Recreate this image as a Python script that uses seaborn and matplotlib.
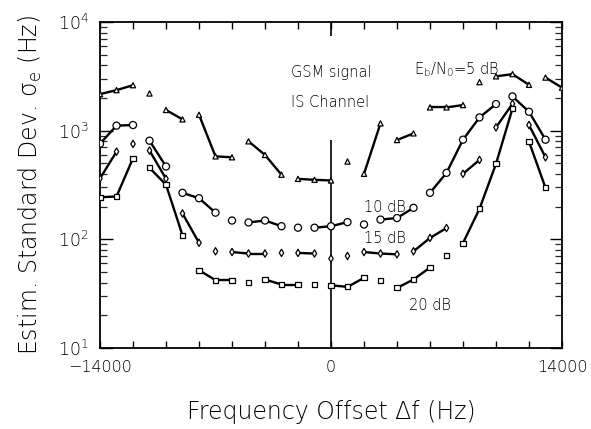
import matplotlib
matplotlib.use("Agg")
import numpy as np
import pandas as pd
import matplotlib.pyplot as plt
import matplotlib.ticker as mticker
import seaborn as sns

# Frequency offsets of the simulated points (Hz)
offsets = [-14000, -13000, -12000, -11000, -10000, -9000, -8000, -7000,
           -6000, -5000, -4000, -3000, -2000, -1000, 0, 1000, 2000, 3000,
           4000, 5000, 6000, 7000, 8000, 9000, 10000, 11000, 12000, 13000,
           14000]

# Estimated standard deviation of the frequency error (Hz), one list per Eb/N0
sigma_5db = [2170, 2360, 2620, 2200, 1550, 1270, 1400, 580, 569, 798, 598,
             393, 360, 353, 348, 520, 401, 1167, 820, 944, 1637, 1637, 1721,
             2797, 3162, 3311, 2642, 3080, 2490]
sigma_10db = [759, 1112, 1127, 809, 468, 268, 239, 176, 149, 143, 149, 132,
              128, 128, 132, 144, 137, 152, 157, 195, 268, 409, 826, 1324,
              1758, 2066, 1493, 826, np.nan]
sigma_15db = [363, 641, 755, 656, 361, 173, 93, 77.6, 76.4, 74, 74, 75, 75,
              74, 66.5, 70.3, 76.4, 74, 72.8, 77.6, 103, 127, 401, 538, 1072,
              1770, 1127, 569, np.nan]
sigma_20db = [244, 248, 557, 455, 318, 109, 52, 42.1, 42.1, 40.1, 42.7, 38.4,
              38.4, 38.4, 37.8, 36.5, 44.2, 42.1, 35.7, 42.7, 55, 71.3, 92.5,
              191, 495, 1600, 792, 298, np.nan]

snr_levels = ["5 dB", "10 dB", "15 dB", "20 dB"]

# Index i in a list means point i is joined to point i+1 by a line piece
links_5db = [0, 1, 4, 6, 7, 9, 10, 12, 13, 16, 18, 20, 21, 24, 25, 27]
links_10db = [0, 1, 3, 5, 6, 9, 10, 13, 14, 17, 18, 20, 21, 22, 23, 25, 26]
links_15db = [0, 3, 5, 8, 9, 12, 16, 17, 19, 20, 22, 24, 26]
links_20db = [0, 1, 3, 4, 6, 7, 10, 11, 14, 15, 18, 19, 22, 23, 24, 26]

series = {
    "5 dB": (sigma_5db, links_5db),
    "10 dB": (sigma_10db, links_10db),
    "15 dB": (sigma_15db, links_15db),
    "20 dB": (sigma_20db, links_20db),
}

# Long tables for seaborn: all points, and the joined line pieces
pts = pd.concat(
    [pd.DataFrame({"offset": offsets, "sigma": vals, "snr": name})
     for name, (vals, _) in series.items()],
    ignore_index=True,
).dropna()

seg_rows = []
seg_id = 0
for name, (vals, links) in series.items():
    for i in links:
        for j in (i, i + 1):
            seg_rows.append({"seg": seg_id, "offset": offsets[j],
                             "sigma": vals[j], "snr": name})
        seg_id += 1
segs = pd.DataFrame(seg_rows)

sns.set_theme(style="ticks")
plt.rcParams["font.family"] = ["DejaVu Sans"]
plt.rcParams["font.weight"] = 200
plt.rcParams["axes.labelweight"] = 200
plt.rcParams["mathtext.fontset"] = "dejavusans"

fig = plt.figure(figsize=(5.91, 4.29), dpi=100)
fig.patch.set_facecolor("white")
ax = fig.add_axes([100 / 591, 81 / 429, 462 / 591, 326 / 429])
ax.set_facecolor("white")

sns.lineplot(data=segs, x="offset", y="sigma", units="seg", estimator=None,
             sort=False, color="black", linewidth=1.7, legend=False, ax=ax)

sns.scatterplot(data=pts, x="offset", y="sigma", style="snr", size="snr",
                style_order=snr_levels,
                markers={"5 dB": "^", "10 dB": "o", "15 dB": "d", "20 dB": "s"},
                sizes={"5 dB": 14, "10 dB": 26, "15 dB": 14, "20 dB": 13},
                color="white", edgecolor="black", linewidth=0.9,
                legend=False, zorder=3, ax=ax)

ax.set_yscale("log")
ax.set_xlim(-14000, 14000)
ax.set_ylim(10, 1e4)

# zero-offset reference line, interrupted behind the captions
ax.vlines(0, 10, 826, color="black", linewidth=1.2, zorder=2)
ax.vlines(0, 7450, 1e4, color="black", linewidth=1.2, zorder=2)

# ticks
xt = list(range(-14000, 14001, 2000))
ax.set_xticks(xt, [f"{t:d}".replace("-", "\u2212") if t in (-14000, 0, 14000) else ""
                   for t in xt])
ax.yaxis.set_major_locator(mticker.LogLocator(base=10, numticks=10))
ax.yaxis.set_minor_locator(mticker.LogLocator(base=10, subs=np.arange(2, 10), numticks=10))
ax.yaxis.set_major_formatter(mticker.LogFormatterMathtext())
ax.yaxis.set_minor_formatter(mticker.NullFormatter())
ax.tick_params(axis="x", which="major", direction="in", length=5, width=1.0,
               top=True, bottom=True, labelsize=11.5, pad=9, colors="black")
ax.tick_params(axis="y", which="major", direction="in", length=9, width=1.0,
               left=True, right=True, labelsize=12.5, pad=8, colors="black")
ax.tick_params(axis="y", which="minor", direction="in", length=5, width=0.9,
               left=True, right=True)
for sp in ax.spines.values():
    sp.set_visible(True)
    sp.set_color("black")
    sp.set_linewidth(1.3)

ax.set_xlabel("Frequency Offset \u0394f (Hz)", fontsize=17, fontweight=200,
              labelpad=18, color="black")
ax.set_ylabel("Estim. Standard Dev. \u03c3$_{\\mathregular{e}}$ (Hz)",
              fontsize=17, fontweight=200, labelpad=10, color="black")

# captions
txt = dict(fontsize=10.5, color="black", ha="left", va="center")
ax.text(-2400, 3430, "GSM signal", **txt)
ax.text(-2400, 1800, "IS Channel", **txt)
ax.text(5000, 3650, r"E$_{\mathregular{b}}$/N$_{\mathregular{0}}$=5 dB", **txt)
ax.text(2000, 197, "10 dB", **txt)
ax.text(2000, 102, "15 dB", **txt)
ax.text(4700, 24.8, "20 dB", **txt)

fig.savefig("out.png", dpi=100, facecolor="white")
